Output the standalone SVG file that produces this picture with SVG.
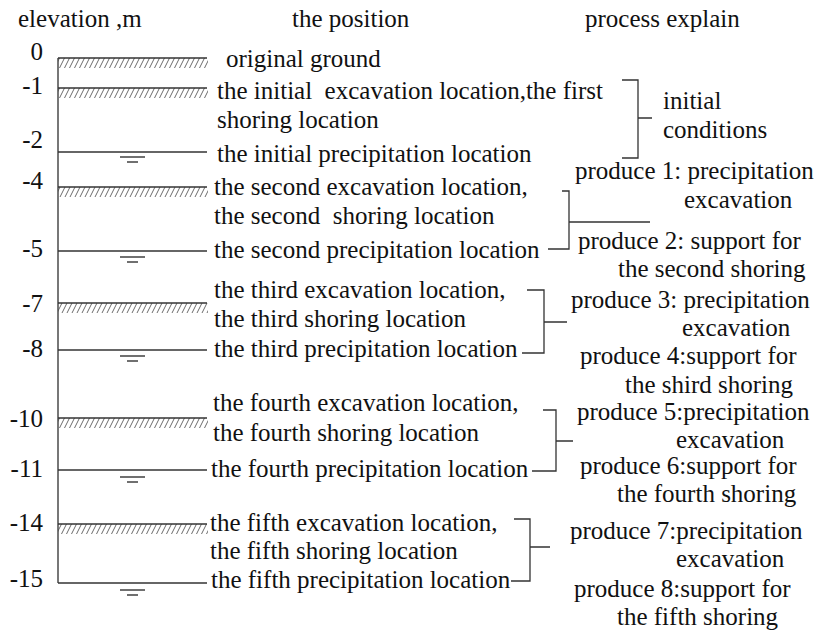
<svg xmlns="http://www.w3.org/2000/svg" width="815" height="631" viewBox="0 0 815 631">
<defs>
<pattern id="hatch" patternUnits="userSpaceOnUse" x="0" y="0" width="5" height="10">
<path d="M-1.5,10 L3.5,0 M3.5,10 L8.5,0" stroke="#444" stroke-width="0.8" fill="none"/>
</pattern>
<g id="water">
<line x1="120" y1="0" x2="145" y2="0"/>
<line x1="127" y1="5" x2="138" y2="5"/>
</g>
</defs>
<style>
text{font-family:'Liberation Serif',serif;font-size:25px;fill:#111}
.num{text-anchor:end}
.ax{stroke:#555;stroke-width:1.6;fill:none}
.gl{stroke:#333;stroke-width:1.4;fill:none}
.hb{fill:url(#hatch);stroke:none}
.br{stroke:#333;stroke-width:1.3;fill:none}
</style>
<rect width="815" height="631" fill="#fff"/>

<g id="axis" class="ax">
<line x1="58" y1="58" x2="58" y2="583"/>
</g>

<g id="ground-lines" class="gl">
<rect class="hb" x="58" y="58" width="150" height="10"/>
<rect class="hb" x="58" y="88" width="150" height="10"/>
<rect class="hb" x="58" y="187" width="150" height="10"/>
<rect class="hb" x="58" y="303" width="150" height="10"/>
<rect class="hb" x="58" y="418" width="150" height="10"/>
<rect class="hb" x="58" y="524" width="150" height="10"/>
<line x1="58" y1="58" x2="207" y2="58"/>
<line x1="58" y1="88" x2="207" y2="88"/>
<line x1="58" y1="152" x2="207" y2="152"/>
<line x1="58" y1="187" x2="207" y2="187"/>
<line x1="58" y1="251" x2="207" y2="251"/>
<line x1="58" y1="303" x2="207" y2="303"/>
<line x1="58" y1="350" x2="207" y2="350"/>
<line x1="58" y1="418" x2="207" y2="418"/>
<line x1="58" y1="470" x2="207" y2="470"/>
<line x1="58" y1="524" x2="207" y2="524"/>
<line x1="58" y1="583" x2="207" y2="583"/>
<use href="#water" y="157"/>
<use href="#water" y="257"/>
<use href="#water" y="356"/>
<use href="#water" y="477"/>
<use href="#water" y="590"/>
</g>

<g id="headers">
<text x="18" y="27">elevation ,m</text>
<text x="292" y="27">the position</text>
<text x="585" y="27">process explain</text>
</g>

<g id="elevations">
<text class="num" x="43" y="60">0</text>
<text class="num" x="43" y="94">-1</text>
<text class="num" x="43" y="148">-2</text>
<text class="num" x="43" y="189">-4</text>
<text class="num" x="43" y="257">-5</text>
<text class="num" x="43" y="312">-7</text>
<text class="num" x="43" y="357">-8</text>
<text class="num" x="43" y="427">-10</text>
<text class="num" x="43" y="477">-11</text>
<text class="num" x="43" y="531">-14</text>
<text class="num" x="43" y="587">-15</text>
</g>

<g id="level-0"><text x="226" y="67">original ground</text></g>
<g id="level-1">
<text x="217" y="99" xml:space="preserve">the initial  excavation location,the first</text>
<text x="217" y="128">shoring location</text>
</g>
<g id="level-2"><text x="217" y="162">the initial precipitation location</text></g>
<g id="level-4">
<text x="214" y="195">the second excavation location,</text>
<text x="214" y="224" xml:space="preserve">the second  shoring location</text>
</g>
<g id="level-5"><text x="214" y="258">the second precipitation location</text></g>
<g id="level-7">
<text x="214" y="298">the third excavation location,</text>
<text x="214" y="327">the third shoring location</text>
</g>
<g id="level-8"><text x="214" y="357">the third precipitation location</text></g>
<g id="level-10">
<text x="213" y="411">the fourth excavation location,</text>
<text x="213" y="441">the fourth shoring location</text>
</g>
<g id="level-11"><text x="211" y="477">the fourth precipitation location</text></g>
<g id="level-14">
<text x="210" y="531">the fifth excavation location,</text>
<text x="210" y="559">the fifth shoring location</text>
</g>
<g id="level-15"><text x="211" y="588">the fifth precipitation location</text></g>

<g id="process-initial">
<text x="663" y="109">initial</text>
<text x="663" y="138">conditions</text>
</g>
<g id="process-1-2">
<text x="575" y="179">produce 1: precipitation</text>
<text x="684" y="208">excavation</text>
<text x="578" y="249">produce 2: support for</text>
<text x="618" y="277">the second shoring</text>
</g>
<g id="process-3-4">
<text x="571" y="308">produce 3: precipitation</text>
<text x="682" y="336">excavation</text>
<text x="580" y="364">produce 4:support for</text>
<text x="625" y="393">the shird shoring</text>
</g>
<g id="process-5-6">
<text x="577" y="420">produce 5:precipitation</text>
<text x="676" y="448">excavation</text>
<text x="580" y="474">produce 6:support for</text>
<text x="617" y="502">the fourth shoring</text>
</g>
<g id="process-7-8">
<text x="570" y="539">produce 7:precipitation</text>
<text x="676" y="567">excavation</text>
<text x="574" y="597">produce 8:support for</text>
<text x="617" y="625">the fifth shoring</text>
</g>

<g id="connectors" class="br">
<path d="M622,80 H638 V158 H622 M638,118 H652"/>
<path d="M562,191 H569 V249 H548 M569,222 H650"/>
<path d="M527,290 H544 V353 H522 M544,322 H567"/>
<path d="M543,410 H556 V471 H532 M556,441 H573"/>
<path d="M514,519 H530 V581 H511 M530,547 H550"/>
</g>
</svg>
